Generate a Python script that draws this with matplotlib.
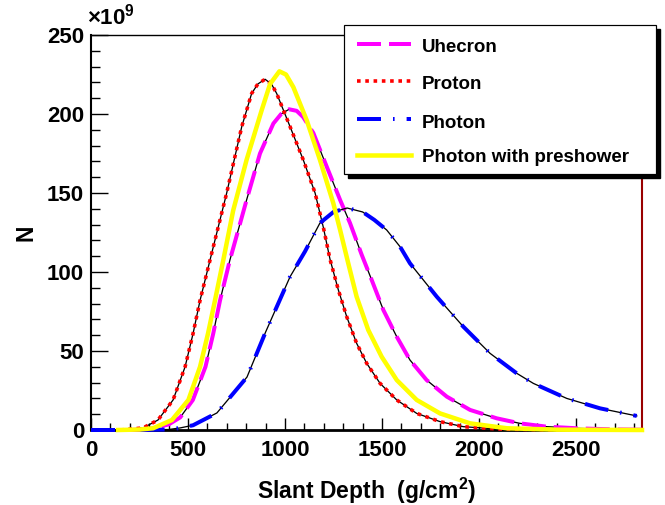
import matplotlib
matplotlib.use('Agg')
import matplotlib.pyplot as plt
from matplotlib.lines import Line2D
from matplotlib.patches import Rectangle
from matplotlib.ticker import MultipleLocator

plt.rcParams['font.family'] = ['Liberation Sans', 'DejaVu Sans']
plt.rcParams['font.weight'] = 'bold'
plt.rcParams['mathtext.fontset'] = 'custom'
plt.rcParams['mathtext.rm'] = 'Liberation Sans:bold'
plt.rcParams['mathtext.bf'] = 'Liberation Sans:bold'
plt.rcParams['mathtext.it'] = 'Liberation Sans:bold'

# ---- data (N in units of 1e9) ----
uhecron_x = [200, 300, 400, 460, 525, 590, 630, 665, 716, 802, 871, 940, 980, 1021, 1060, 1094, 1146,
             1214, 1284, 1335, 1395, 1447, 1507, 1576, 1644, 1730, 1834, 1954, 2091, 2211, 2349,
             2520, 2690, 2840]
uhecron_n = [0, 0.5, 3.5, 8, 19, 40, 61, 82, 107.6, 145.6, 175, 194, 200, 203, 202, 198, 188,
             167, 145.6, 131, 111, 94.9, 75.9, 59, 44.3, 31.6, 21.1, 12.7, 7.4, 4.2, 2.1,
             1.0, 0.4, 0.2]

proton_x = [150, 268, 345, 423, 485, 526, 562, 622, 699, 777, 828, 860, 897, 930, 957, 1026, 1094,
            1155, 1198, 1232, 1275, 1318, 1369, 1421, 1490, 1576, 1679, 1799, 1919, 2100, 2400, 2840]
proton_n = [0, 1.3, 6.3, 19, 40, 61, 82, 111.8, 149.8, 192, 213, 219, 222, 219, 213, 192, 171,
            150, 128, 108, 88.6, 71.7, 54.9, 42.2, 29.5, 19, 10.5, 5.3, 2.1, 0.6, 0.1, 0]

photon_x = [0, 200, 400, 459, 526, 649, 804, 900, 1026, 1103, 1180, 1250, 1320, 1400, 1460, 1524,
            1593, 1644, 1782, 1919, 2057, 2194, 2280, 2452, 2624, 2813]
photon_n = [0, 0, 0.3, 1.3, 3, 10.8, 33.5, 62, 97, 113, 131, 138, 140.5, 138, 133, 126.6,
            116, 105.5, 84.4, 65.4, 48.5, 35.9, 29.5, 20, 13.7, 8.9]

preshower_x = [140, 250, 320, 417, 502, 562, 603, 639, 682, 733, 802, 880, 923, 971, 1005, 1043,
               1112, 1180, 1249, 1284, 1326, 1369, 1429, 1498, 1576, 1679, 1799, 1954, 2143, 2400, 2840]
preshower_n = [0, 0.3, 1.1, 6.3, 19, 40, 61, 82, 107.6, 139, 171, 202.5, 219, 227, 225, 217,
               196, 171, 143.5, 126.6, 105.5, 84.4, 63.3, 46.4, 31.6, 19, 10.5, 4.2, 1.1, 0.2, 0]

labels = ['Uhecron', 'Proton', 'Photon', 'Photon with preshower']
xticks = [0, 500, 1000, 1500, 2000, 2500]
yticks = [0, 50, 100, 150, 200, 250]

PX = 72.0 / 100.0  # points per pixel
W, H = 665, 505

fig = plt.figure(figsize=(6.65, 5.05), dpi=100)
ax = fig.add_axes([91 / W, 1 - 430 / H, 551 / W, 395 / H])

styles = [
    dict(color='#ff00ff', lw=4 * PX, ls=(0, (6, 2))),
    dict(color='#ff0000', lw=3.6 * PX, ls=(0, (1, 1.3))),
    dict(color='#0000ff', lw=4 * PX, ls=(0, (6, 3, 0.4, 3))),
    dict(color='#ffff00', lw=4.5 * PX, ls='-'),
]
series = [(uhecron_x, uhecron_n), (proton_x, proton_n), (photon_x, photon_n), (preshower_x, preshower_n)]

for i, ((xs, ns), st) in enumerate(zip(series, styles)):
    ax.plot(xs, ns, color='black', lw=1.3 * PX, zorder=3 + 2 * i, clip_on=False)
    ax.plot(xs, ns, color=st['color'], lw=st['lw'], ls=st['ls'], zorder=4 + 2 * i, clip_on=False)

ax.set_xlim(0, 2840)
ax.set_ylim(0, 250)
ax.set_xticks(xticks)
ax.set_yticks(yticks)
ax.xaxis.set_minor_locator(MultipleLocator(100))
ax.yaxis.set_minor_locator(MultipleLocator(10))
ax.tick_params(which='both', direction='in', top=False, right=False, width=1, color='black')
ax.tick_params(axis='y', which='major', length=12, pad=5, labelsize=16)
ax.tick_params(axis='y', which='minor', length=6.3)
ax.tick_params(axis='x', which='major', length=8.6, pad=7, labelsize=16)
ax.tick_params(axis='x', which='minor', length=5)
for lab in ax.get_xticklabels() + ax.get_yticklabels():
    lab.set_fontweight('bold')

ax.spines['left'].set_linewidth(1.5)
ax.spines['bottom'].set_linewidth(2)
ax.spines['top'].set_linewidth(1)
ax.spines['right'].set_linewidth(1.5)
ax.spines['right'].set_color('#990000')

ax.set_xlabel(r'Slant Depth  (g/cm$^{2}$)', fontsize=16.5, fontweight='bold')
ax.xaxis.set_label_coords(0.5, -0.1165)
ax.set_ylabel('N', fontsize=16.5, fontweight='bold')
ax.yaxis.set_label_coords(-0.097, 0.5)

fig.text(87 / W, 1 - 25 / H, '\u00d710$^{9}$', fontsize=16, fontweight='bold', va='baseline', ha='left')

# ---- legend (ROOT-style box with shadow) ----
def fx(p):
    return p / W

def fy(p):
    return 1 - p / H

fig.patches.append(Rectangle((fx(348), fy(178)), fx(660) - fx(348), fy(29) - fy(178),
                             transform=fig.transFigure, facecolor='black', edgecolor='black', zorder=20))
fig.patches.append(Rectangle((fx(344), fy(174)), fx(656) - fx(344), fy(25) - fy(174),
                             transform=fig.transFigure, facecolor='white', edgecolor='black',
                             lw=1.2 * PX, zorder=21))
line_y = [44, 80.7, 118.7, 155]
base_y = [52, 89.5, 127.5, 161.7]
for st, lab, ly, by in zip(styles, labels, line_y, base_y):
    fig.lines.append(Line2D([fx(357), fx(411)], [fy(ly), fy(ly)], transform=fig.transFigure,
                            color=st['color'], lw=st['lw'], ls=st['ls'], zorder=22))
    fig.text(fx(422), fy(by), lab, fontsize=13.5, fontweight='bold', va='baseline', ha='left', zorder=23)

fig.savefig('out.png', dpi=100)
